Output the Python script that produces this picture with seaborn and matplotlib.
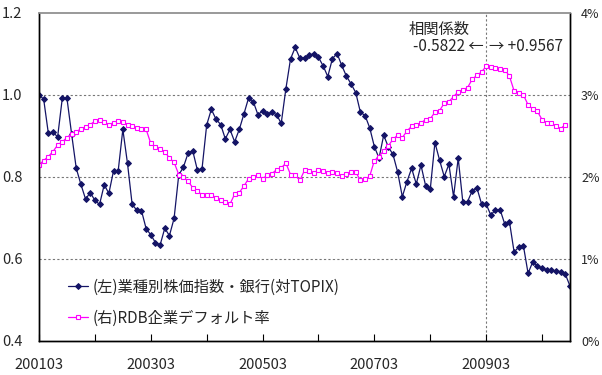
import matplotlib; matplotlib.use("Agg")
import numpy as np
import pandas as pd
import matplotlib.pyplot as plt
import seaborn as sns

# monthly, 200103 .. 201009
months = pd.period_range("2001-03", "2010-09", freq="M").strftime("%Y%m").tolist()
tick_labels = ["200103", "200303", "200503", "200703", "200903"]

# (左) 業種別株価指数・銀行 (対TOPIX)
bank_index = [
    1.000, 0.990, 0.907, 0.909, 0.898, 0.992, 0.992, 0.905, 0.821, 0.782,
    0.746, 0.762, 0.743, 0.733, 0.781, 0.760, 0.815, 0.815, 0.916, 0.833,
    0.733, 0.719, 0.718, 0.674, 0.659, 0.640, 0.634, 0.675, 0.657, 0.699,
    0.805, 0.824, 0.858, 0.864, 0.817, 0.820, 0.927, 0.965, 0.941, 0.928,
    0.893, 0.916, 0.886, 0.916, 0.954, 0.993, 0.984, 0.952, 0.961, 0.953,
    0.958, 0.952, 0.931, 1.015, 1.088, 1.116, 1.090, 1.091, 1.097, 1.101,
    1.092, 1.071, 1.045, 1.089, 1.101, 1.072, 1.046, 1.027, 1.006, 0.958,
    0.950, 0.920, 0.874, 0.846, 0.902, 0.873, 0.855, 0.812, 0.752, 0.789,
    0.821, 0.783, 0.829, 0.779, 0.770, 0.884, 0.841, 0.801, 0.831, 0.752,
    0.846, 0.738, 0.740, 0.766, 0.774, 0.735, 0.734, 0.707, 0.720, 0.720,
    0.685, 0.691, 0.617, 0.629, 0.632, 0.565, 0.593, 0.583, 0.577, 0.573,
    0.573, 0.571, 0.569, 0.563, 0.534,
]

# (右) RDB企業デフォルト率 (%), ends one month earlier
default_rate = [
    2.15, 2.20, 2.25, 2.31, 2.39, 2.43, 2.48, 2.53, 2.55, 2.59,
    2.61, 2.64, 2.68, 2.69, 2.67, 2.64, 2.66, 2.68, 2.67, 2.64,
    2.62, 2.60, 2.58, 2.58, 2.41, 2.37, 2.34, 2.31, 2.23, 2.18,
    2.03, 2.00, 1.95, 1.87, 1.83, 1.78, 1.78, 1.78, 1.75, 1.72,
    1.70, 1.67, 1.79, 1.81, 1.89, 1.98, 2.00, 2.02, 1.98, 2.02,
    2.04, 2.09, 2.11, 2.17, 2.03, 2.02, 1.96, 2.08, 2.07, 2.05,
    2.09, 2.07, 2.05, 2.06, 2.05, 2.01, 2.04, 2.06, 2.06, 1.96,
    1.97, 2.01, 2.20, 2.25, 2.32, 2.38, 2.46, 2.51, 2.48, 2.56,
    2.62, 2.63, 2.66, 2.70, 2.71, 2.79, 2.81, 2.90, 2.92, 2.98,
    3.04, 3.06, 3.09, 3.19, 3.24, 3.28, 3.35, 3.34, 3.33, 3.32,
    3.31, 3.23, 3.05, 3.03, 3.00, 2.88, 2.83, 2.80, 2.70, 2.66,
    2.66, 2.62, 2.59, 2.64,
]

corr_title = "相関係数"
corr_left = "-0.5822 ←"
corr_right = "→ +0.9567"
split_month = "200903"

sns.set_style("white")
plt.rcParams["font.family"] = ["Noto Sans CJK JP", "DejaVu Sans"]
plt.rcParams["font.size"] = 10

NAVY = "#141466"
PINK = "#ff00ff"

bank = pd.DataFrame({"x": range(len(bank_index)), "v": bank_index})
rate = pd.DataFrame({"x": range(len(default_rate)), "v": default_rate})

fig = plt.figure(figsize=(6.02, 3.75), dpi=100)
ax = fig.add_axes([39 / 602, 34 / 375, 531 / 602, 328 / 375])
ax2 = ax.twinx()

sns.lineplot(data=bank, x="x", y="v", ax=ax, color=NAVY, lw=0.9,
             marker="D", markersize=3, markeredgecolor=NAVY, markerfacecolor=NAVY,
             label="(左)業種別株価指数・銀行(対TOPIX)", legend=False)
sns.lineplot(data=rate, x="x", y="v", ax=ax2, color=PINK, lw=0.9,
             marker="s", markersize=3.3, markeredgecolor=PINK, markerfacecolor="white",
             markeredgewidth=0.8, label="(右)RDB企業デフォルト率", legend=False)

n = len(months)
ax.set_xlim(0, n - 1)
ax.set_ylim(0.4, 1.2)
ax2.set_ylim(0, 4)

for g in [0.6, 0.8, 1.0]:
    ax.axhline(g, color="#777777", lw=0.8, ls=(0, (2, 2)), zorder=0)
ax.axvline(months.index(split_month), color="#777777", lw=0.8, ls=(0, (2, 2)), zorder=0)

ax.set_yticks([0.4, 0.6, 0.8, 1.0, 1.2])
ax.set_yticklabels([f"{t:.1f}" for t in [0.4, 0.6, 0.8, 1.0, 1.2]])
ax2.set_yticks([0, 1, 2, 3, 4])
ax2.set_yticklabels([f"{t}%" for t in range(5)])
ax.tick_params(axis="y", length=0, pad=12, labelsize=10.5)
ax2.tick_params(axis="y", length=0, pad=8, labelsize=9)

ax.set_xticks([months.index(m) for m in tick_labels])
ax.set_xticklabels(tick_labels)
ax.set_xticks([months.index(m) + 12 for m in tick_labels], minor=True)
ax.tick_params(axis="x", which="both", direction="in", length=5, width=0.8,
               color="black", pad=12, labelsize=10.5, bottom=True)
ax.set_xlabel(""); ax.set_ylabel(""); ax2.set_ylabel("")

for a in (ax, ax2):
    for s in ["left", "bottom", "right"]:
        a.spines[s].set_color("black")
        a.spines[s].set_linewidth(1.0)
    a.spines["top"].set_color("#999999")
    a.spines["top"].set_linewidth(1.2)

ax.text(79.4, 1.159, corr_title, fontsize=11, va="center", ha="left")
ax.text(95.4, 1.118, corr_left, fontsize=11, va="center", ha="right")
ax.text(96.6, 1.118, corr_right, fontsize=11, va="center", ha="left")

h1, l1 = ax.get_legend_handles_labels()
h2, l2 = ax2.get_legend_handles_labels()
ax2.legend(h1 + h2, l1 + l2, loc="upper left", bbox_to_anchor=(0.055, 0.19),
           frameon=False, fontsize=11, handlelength=1.3, handletextpad=0.3,
           labelspacing=0.9, borderpad=0, borderaxespad=0)

fig.savefig("out.png", dpi=100)
